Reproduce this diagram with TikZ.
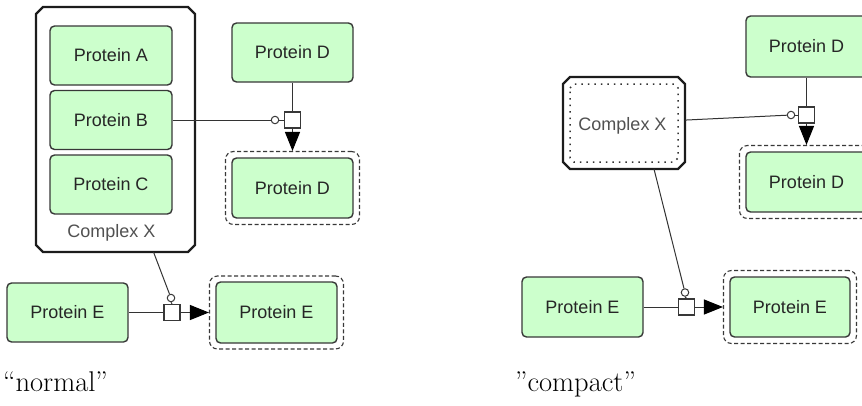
\documentclass[tikz,border=0pt]{standalone}
\usepackage{fontspec}
\newfontfamily\lsans{Liberation Sans}
\usetikzlibrary{arrows.meta,calc}
\definecolor{protfill}{HTML}{CCFFCC}
\definecolor{protline}{HTML}{383838}
\definecolor{prottext}{HTML}{262626}
\definecolor{cxline}{HTML}{1C1C1C}
\definecolor{connline}{HTML}{333333}
% outline with cut corners around a named rectangular node
\newcommand\chamferpath[3]{%
  \draw[#3] ($(#1.north west)+(0,#2)$) -- ($(#1.north west)+(#2,0)$)
    -- ($(#1.north east)+(-#2,0)$) -- ($(#1.north east)+(0,#2)$)
    -- ($(#1.south east)+(0,-#2)$) -- ($(#1.south east)+(-#2,0)$)
    -- ($(#1.south west)+(#2,0)$) -- ($(#1.south west)+(0,-#2)$) -- cycle;}
\begin{document}
\begin{tikzpicture}[x=1pt,y=-1pt,
  protein/.style={rectangle, rounded corners=4.5pt, draw=protline, line width=1.4pt,
    fill=protfill, minimum width=121pt, minimum height=59pt, inner sep=0pt,
    font=\lsans\fontsize{18}{20}\selectfont, text=prottext},
  halo/.style={rectangle, rounded corners=8pt, draw=protline, line width=1.1pt,
    dash pattern=on 4pt off 2.5pt, fill=white, minimum width=134pt, minimum height=73pt, inner sep=0pt},
  complexbox/.style={rectangle, draw=none, inner sep=0pt, outer sep=0pt},
  cxoutline/.style={draw=cxline, line width=2.4pt, fill=white, line join=miter},
  cxdots/.style={draw=connline, line width=1.5pt, dash pattern=on 1.5pt off 5pt},
  cxlabel/.style={font=\lsans\fontsize{18}{20}\selectfont, text=prottext!80!white, inner sep=0pt},
  procbox/.style={rectangle, draw=protline, line width=1.1pt, fill=white, minimum size=16pt, inner sep=0pt},
  modcirc/.style={circle, draw=protline, line width=1pt, fill=white, minimum size=7.5pt, inner sep=0pt},
  conn/.style={draw=connline, line width=1pt},
  convert/.style={conn, -{Triangle[length=19pt,width=15pt,fill=black,color=black]}},
  caption/.style={font=\fontsize{28.5}{31}\selectfont, inner sep=0pt, anchor=base west}
]
\useasboundingbox (0,0) rectangle (862,405);
\clip (0,0) rectangle (862,405);

% ---------- normal layout ----------
\node[complexbox, minimum width=159pt, minimum height=245pt] (cxL) at (115.5,129.5) {};
\chamferpath{cxL}{7}{cxoutline}
\node[cxlabel, anchor=base] (cxLname) at (111.5,237) {Complex X};
\node[protein, minimum width=122pt] (pA) at (111,55.5) {Protein A};
\node[protein, minimum width=122pt] (pB) at (111,120) {Protein B};
\node[protein, minimum width=122pt] (pC) at (111,184.5) {Protein C};

\node[protein] (dTopL) at (292.5,52.5) {Protein D};
\node[halo] (dHaloL) at (292.5,188) {};
\node[protein, minimum height=60pt] (dBotL) at (292.5,188) {Protein D};
\node[procbox] (sqDL) at (292.5,120) {};
\node[modcirc] (cDL) at (275,120) {};
\draw[conn] (pB.east) -- (cDL.west);
\draw[conn] (cDL.east) -- (sqDL.west);
\draw[conn] (dTopL.south) -- (sqDL.north);
\draw[convert] (sqDL.south) -- (dHaloL.north);

\node[protein] (eLeftL) at (67.5,312.5) {Protein E};
\node[halo] (eHaloL) at (276.5,312.5) {};
\node[protein, minimum height=61pt] (eRightL) at (276.5,312.5) {Protein E};
\node[procbox] (sqEL) at (172,312.5) {};
\node[modcirc] (cEL) at (171,298) {};
\draw[conn] ([xshift=38pt]cxL.south) -- (cEL);
\draw[conn] (cEL.south) -- (sqEL.north);
\draw[conn] (eLeftL.east) -- (sqEL.west);
\draw[convert] (sqEL.east) -- (eHaloL.west);

\node[caption] (capL) at (3,391) {``normal''};

% ---------- compact layout ----------
\node[complexbox, minimum width=122pt, minimum height=92pt] (cxR) at (624,123) {};
\chamferpath{cxR}{7}{cxoutline}
\node[complexbox, minimum width=108pt, minimum height=78pt] (cxRin) at (624,123) {};
\chamferpath{cxRin}{4}{cxdots}
\node[cxlabel, anchor=base] (cxRname) at (622.5,130.5) {Complex X};

\node[protein, minimum height=61pt] (dTopR) at (806.5,46.5) {Protein D};
\node[halo] (dHaloR) at (806.5,182) {};
\node[protein, minimum height=60pt] (dBotR) at (806.5,182) {Protein D};
\node[procbox] (sqDR) at (806.5,115) {};
\node[modcirc] (cDR) at (791,115) {};
\draw[conn] (cxR) -- (cDR);
\draw[conn] (cDR.east) -- (sqDR.west);
\draw[conn] (dTopR.south) -- (sqDR.north);
\draw[convert] (sqDR.south) -- (dHaloR.north);

\node[protein, minimum height=60pt] (eLeftR) at (582.5,307) {Protein E};
\node[halo, minimum width=133pt] (eHaloR) at (790,307) {};
\node[protein, minimum width=120pt, minimum height=60pt] (eRightR) at (790,307) {Protein E};
\node[procbox] (sqER) at (686.5,307) {};
\node[modcirc] (cER) at (685,292.5) {};
\draw[conn] ([xshift=30pt]cxR.south) -- (cER);
\draw[conn] (cER.south) -- (sqER.north);
\draw[conn] (eLeftR.east) -- (sqER.west);
\draw[convert] (sqER.east) -- (eHaloR.west);

\node[caption] (capR) at (515,391) {''compact''};
\end{tikzpicture}
\end{document}
